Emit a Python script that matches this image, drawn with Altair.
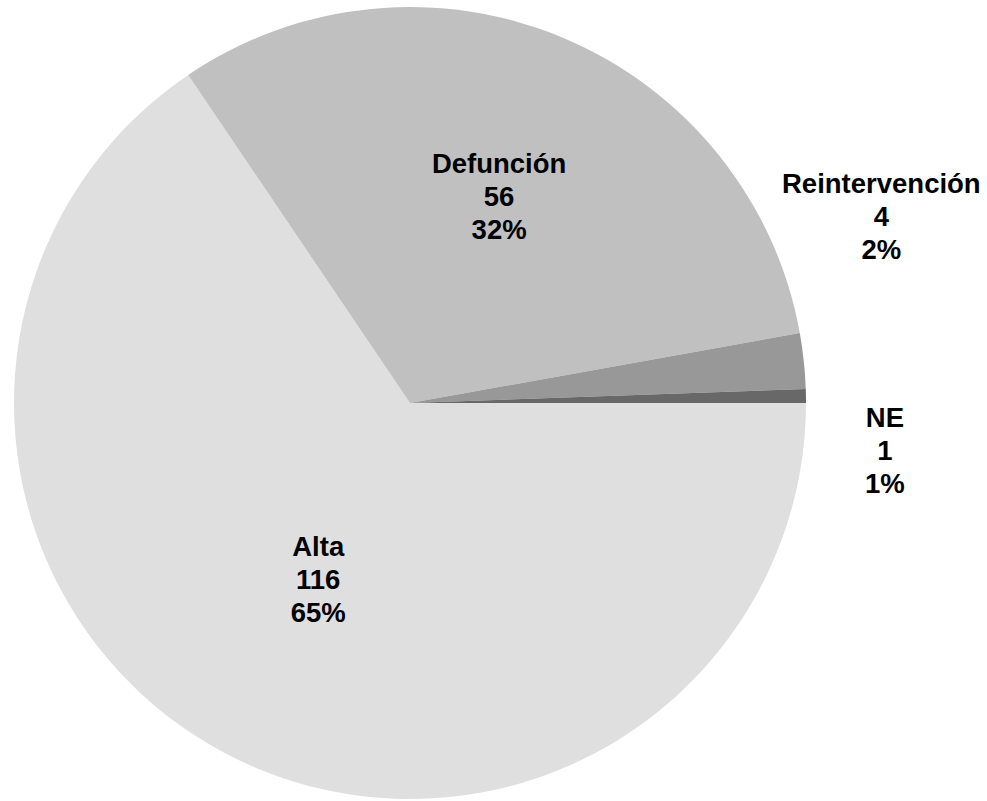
import math
import altair as alt
import pandas as pd

# Data (clockwise order from 3 o'clock)
categorias = ["Alta", "Defunción", "Reintervención", "NE"]
valores = [116, 56, 4, 1]
porcentajes = ["65%", "32%", "2%", "1%"]
colores = ["#dfdfdf", "#c0c0c0", "#989898", "#686868"]

df = pd.DataFrame({
    "categoria": categorias,
    "valor": valores,
    "pct": porcentajes,
    "orden": list(range(len(categorias))),
})
df["etiqueta"] = [f"{c}\n{v}\n{p}" for c, v, p in zip(categorias, valores, porcentajes)]

theta_scale = alt.Scale(range=[math.pi / 2, math.pi / 2 + 2 * math.pi])

pie = alt.Chart(df).mark_arc(outerRadius=396).encode(
    theta=alt.Theta("valor:Q", stack=True, scale=theta_scale),
    order=alt.Order("orden:Q"),
    color=alt.Color("categoria:N",
                    scale=alt.Scale(domain=categorias, range=colores),
                    legend=None),
)

def label_layer(cat, radius, dx=0, dy=0):
    return alt.Chart(df).transform_window(
        cum="sum(valor)", sort=[alt.SortField("orden")], frame=[None, 0]
    ).transform_calculate(
        mid="datum.cum - datum.valor / 2"
    ).transform_filter(
        alt.datum.categoria == cat
    ).mark_text(
        radius=radius, dx=dx, dy=dy,
        font="Liberation Sans", fontWeight="bold", fontSize=27.5,
        lineHeight=33, lineBreak="\n", align="center", baseline="middle",
        color="#000000",
    ).encode(
        theta=alt.Theta("mid:Q", stack=None, scale=theta_scale),
        text="etiqueta:N",
    )

chart = alt.layer(
    pie,
    label_layer("Defunción", 224, dx=2, dy=-32),
    label_layer("Alta", 200, dx=2, dy=-32),
    label_layer("Reintervención", 472, dx=2, dy=-168),
    label_layer("NE", 475, dx=0, dy=24),
).properties(
    width=820, height=806, padding=0, background="white"
).configure_view(stroke=None)

chart.save("out.html", embed_options={"renderer": "svg", "actions": False})
